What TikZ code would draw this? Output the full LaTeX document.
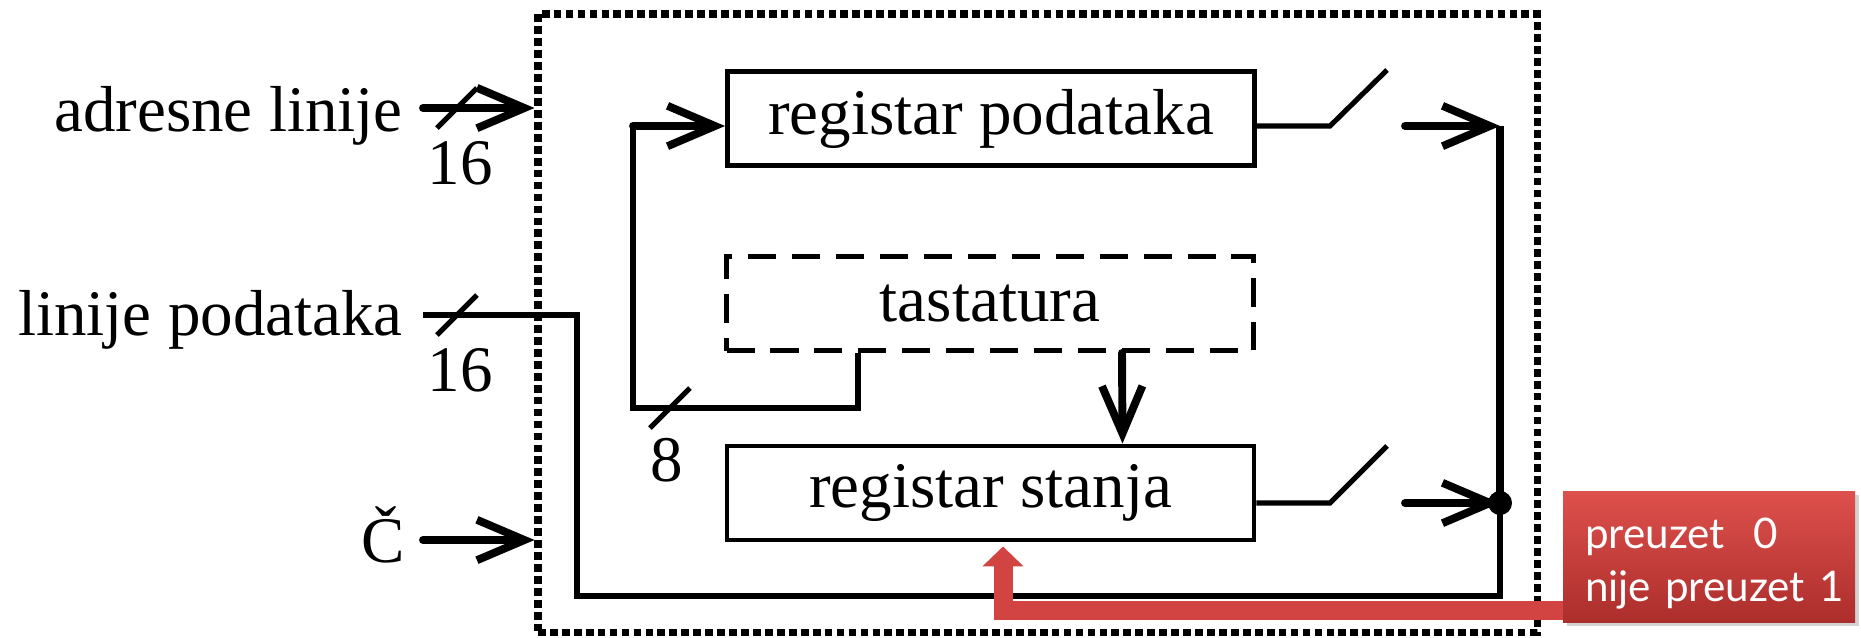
\documentclass[tikz,border=0pt]{standalone}
\usepackage{fontspec}
\setmainfont{Liberation Serif}
\newfontfamily\calloutfont{Lato}
\usetikzlibrary{arrows.meta,calc,shadows}
\definecolor{calltop}{RGB}{222,80,76}
\definecolor{callbot}{RGB}{172,46,44}
\definecolor{arrowred}{RGB}{210,68,66}
\begin{document}
\begin{tikzpicture}[x=0.02cm,y=-0.02cm,
  txt/.style={inner sep=0pt,font=\fontsize{37}{44}\selectfont},
  regbox/.style={draw,line width=2.8pt,inner sep=0pt,font=\fontsize{37}{44}\selectfont,
     minimum width=527*0.02cm,minimum height=94*0.02cm},
  dashbox/.style={regbox,dash pattern=on 16pt off 9pt},
  frame/.style={draw,line width=4pt,dash pattern=on 4.4pt off 2.4pt,inner sep=0pt},
  conn/.style={line width=2.9pt,line join=miter},
  arr/.style={line width=4.5pt,-{Straight Barb[length=27pt,width=23pt]},line cap=round},
  thick bus/.style={line width=4.8pt},
  slashln/.style={line width=2.9pt},
  callout/.style={top color=calltop,bottom color=callbot,draw=none,text=white,
     font=\calloutfont\fontsize{24}{30.5}\selectfont,align=left,
     text width=5.6cm,inner xsep=0.12cm,minimum height=131*0.02cm,
     drop shadow={shadow xshift=2pt,shadow yshift=-2pt,opacity=0.35}},
  redarrow/.style={draw=arrowred,line width=10.8pt,line join=miter,
     -{Triangle[length=11.3pt,width=22.7pt]}}
  ]
\useasboundingbox (0,0) rectangle (1861,637);

% frame
\node[frame,minimum width=999*0.02cm,minimum height=618*0.02cm] (frame) at (1037.5,323) {};

% boxes
\node[regbox] (rp) at (991,118.5) {registar podataka};
\node[dashbox] (tast) at (990,303.5) {tastatura};
\node[regbox] (rs) at (990.5,493) {registar stanja};

% left labels
\node[txt,anchor=base east] (adr) at (403,131) {adresne linije};
\node[txt,anchor=base east] (lp) at (403,335) {linije podataka};
\node[txt,anchor=base east] (cc) at (405,562) {Č};
\node[txt] (n16a) at (460,163) {16};
\node[txt] (n16b) at (460,370) {16};
\node[txt] (n8) at (667,460) {8};

% coordinates
\coordinate (a1) at ($(adr.base east)+(20,-23)$);
\coordinate (a2) at ($(lp.base east)+(20,-20)$);
\coordinate (a3) at ($(cc.base east)+(18,-22)$);
\coordinate (busTop) at (1500,126);
\coordinate (busDot) at (1500,503);
\coordinate (busBot) at (1500,596);
\coordinate (lpDown) at (577,596);
\coordinate (loopL) at (633,408);
\coordinate (loopT) at (633,126);
\coordinate (sw1a) at (1330,126);
\coordinate (sw1b) at (1387,70);
\coordinate (sw1c) at (1405,126);
\coordinate (sw2a) at (1330,503);
\coordinate (sw2b) at (1387,446);
\coordinate (sw2c) at (1405,503);
\coordinate (sl1) at (457,108);
\coordinate (sl2) at (457,315);
\coordinate (sl3) at (670,408);

% input arrows
\draw[arr] (a1) -- (a1 -| frame.west);
\draw[arr] (a3) -- (a3 -| frame.west);

% data lines
\draw[conn] (a2) -| (lpDown) -- (busBot) -- (busDot);
\draw[thick bus] (busTop) -- (busDot);
\fill (busDot) circle (12);

% loop from tastatura to registar podataka
\draw[conn] ($(tast.south)+(-132,0)$) |- (loopL) -- (loopT);
\draw[arr] (loopT) -- (rp.west |- loopT);

% tastatura to registar stanja
\draw[arr] ($(tast.south)+(132,0)$) -- ($(rs.north)+(132,0)$);

% switches
\draw[conn] (rp.east |- sw1a) -- (sw1a) -- (sw1b);
\draw[arr] (sw1c) -- (busTop);
\draw[conn] (rs.east |- sw2a) -- (sw2a) -- (sw2b);
\draw[arr] (sw2c) -- (busDot);

% bus slashes
\draw[slashln] ($(sl1)+(-20,20)$) -- ($(sl1)+(20,-20)$);
\draw[slashln] ($(sl2)+(-20,20)$) -- ($(sl2)+(20,-20)$);
\draw[slashln] ($(sl3)+(-20,20)$) -- ($(sl3)+(20,-20)$);

% callout
\node[callout] (cb) at (1709,556.5) {\hspace*{0.32cm}\rule{0pt}{1.05em}preuzet\ \ 0\\\hspace*{0.32cm}nije preuzet 1};
\draw[redarrow] ($(cb.south west)+(0,-12)$) -| ($(rs.south)+(12.5,4)$);
\end{tikzpicture}
\end{document}
